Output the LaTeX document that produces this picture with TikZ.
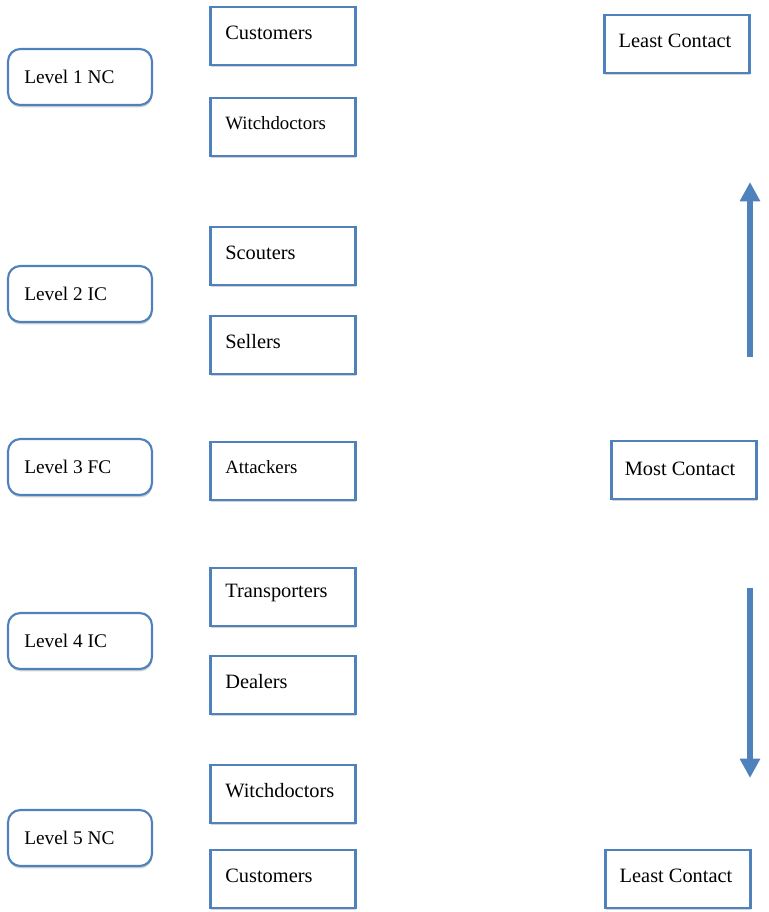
\documentclass[tikz,border=0pt]{standalone}
\usepackage{fontspec}
\setmainfont{Liberation Serif}
\usepackage{xcolor}
\usepackage{tikz}
\usetikzlibrary{arrows.meta}
\usetikzlibrary{shadows}
\definecolor{boxblue}{HTML}{4F81BD}
\tikzset{
  levelbox/.style={draw=boxblue, line width=1.2pt, rounded corners=7pt, fill=white,
    minimum width=2.88cm, minimum height=1.12cm,
    drop shadow={shadow xshift=0.3pt, shadow yshift=-1.4pt, opacity=0.35}},
  rolebox/.style={draw=boxblue, line width=1.2pt, fill=white,
    minimum width=2.9cm, minimum height=1.16cm,
    drop shadow={shadow xshift=0.3pt, shadow yshift=-1.4pt, opacity=0.35}},
  levellabel/.style={anchor=west, font=\fontsize{11}{13}\selectfont, inner sep=0pt},
  rolelabel/.style={anchor=west, font=\fontsize{11.6}{14}\selectfont, inner sep=0pt},
  smalllabel/.style={anchor=west, font=\fontsize{10.7}{13}\selectfont, inner sep=0pt},
  contactlabel/.style={font=\fontsize{11.6}{14}\selectfont, inner sep=0pt},
  bigarrow/.style={draw=boxblue, line width=3.4pt, -{Triangle[length=11pt, width=11pt]}}
}
\begin{document}
\begin{tikzpicture}[x=0.02cm, y=-0.02cm]
    \useasboundingbox (0,0) rectangle (768,912);
    % levels
    \node[levelbox] (L1) at (80,77) {};
    \node[levelbox] (L2) at (80,294) {};
    \node[levelbox] (L3) at (80,467) {};
    \node[levelbox] (L4) at (80,641) {};
    \node[levelbox] (L5) at (80,838) {};
    \node[levellabel] (M1) at (24,77) {Level 1 NC};
    \node[levellabel] (M2) at (24,294) {Level 2 IC};
    \node[levellabel] (M3) at (24,467) {Level 3 FC};
    \node[levellabel] (M4) at (24,641) {Level 4 IC};
    \node[levellabel] (M5) at (24,838) {Level 5 NC};
    % roles
    \node[rolebox] (R1) at (283,36) {};
    \node[rolebox] (R2) at (283,127) {};
    \node[rolebox] (R3) at (283,256) {};
    \node[rolebox] (R4) at (283,345) {};
    \node[rolebox] (R5) at (283,471) {};
    \node[rolebox] (R6) at (283,597) {};
    \node[rolebox] (R7) at (283,685) {};
    \node[rolebox] (R8) at (283,794) {};
    \node[rolebox] (R9) at (283,879) {};
    \node[rolelabel] (T1) at (225,33) {Customers};
    \node[smalllabel] (T2) at (225,123) {Witchdoctors};
    \node[rolelabel] (T3) at (225,253) {Scouters};
    \node[rolelabel] (T4) at (225,342) {Sellers};
    \node[smalllabel] (T5) at (225,467) {Attackers};
    \node[rolelabel] (T6) at (225,593) {Transporters};
    \node[rolelabel] (T7) at (225,682) {Dealers};
    \node[rolelabel] (T8) at (225,791) {Witchdoctors};
    \node[rolelabel] (T9) at (225,876) {Customers};
    % contact
    \node[rolebox] (C1) at (677,44) {};
    \node[rolebox] (C2) at (684,470) {};
    \node[rolebox] (C3) at (678,879) {};
    \node[contactlabel] (D1) at (675,41) {Least Contact};
    \node[contactlabel] (D2) at (680,469) {Most Contact};
    \node[contactlabel] (D3) at (676,876) {Least Contact};
    \coordinate (up0) at (750,357);
    \coordinate (up1) at (750,182);
    \coordinate (dn0) at (750,588);
    \coordinate (dn1) at (750,778);
    \draw [bigarrow] (up0) -- (up1);
    \draw [bigarrow] (dn0) -- (dn1);
  \end{tikzpicture}
\end{document}
